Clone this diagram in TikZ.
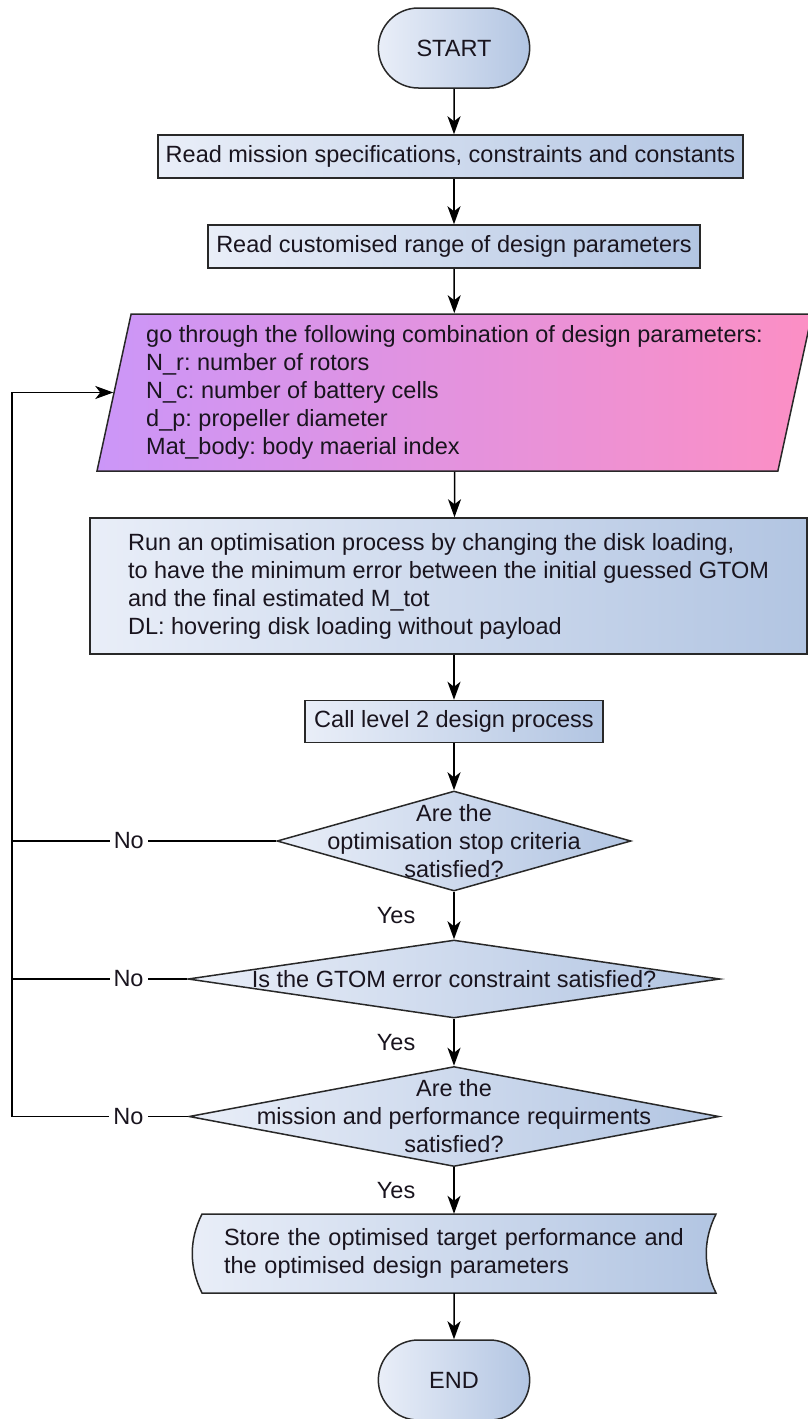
\documentclass[tikz,border=0pt]{standalone}
\usepackage{fontspec}
\setmainfont{Liberation Sans}
\usetikzlibrary{shapes.geometric, shapes.misc, arrows.meta, positioning}
\frenchspacing

\definecolor{boxl}{RGB}{233,238,248}
\definecolor{boxr}{RGB}{178,197,226}
\definecolor{purp}{RGB}{203,150,248}
\definecolor{pinkc}{RGB}{252,143,196}
\definecolor{edge}{RGB}{40,40,40}
\definecolor{txt}{RGB}{25,20,30}

\tikzset{
  base/.style={font=\fontsize{23.5}{28}\selectfont, text=txt},
  terminal/.style={base, rounded rectangle, draw=edge, line width=1.5pt,
    left color=boxl, right color=boxr, minimum width=158pt, minimum height=80pt},
  process/.style={base, rectangle, draw=edge, line width=1.5pt,
    left color=boxl, right color=boxr, inner sep=0pt, minimum height=43pt},
  inputbox/.style={base, trapezium, trapezium left angle=75.7,
    trapezium right angle=104.3, trapezium stretches body,
    minimum width=715pt, minimum height=157pt, inner sep=0pt,
    align=left, draw=edge, line width=1.5pt,
    left color=purp, right color=pinkc},
  decision/.style={diamond, draw=edge, line width=1.5pt,
    left color=boxl, right color=boxr, inner sep=0pt},
  decisiontext/.style={base, align=center},
  storeshape/.style={draw=edge, line width=1.5pt, left color=boxl, right color=boxr},
  yeslabel/.style={base, left=38pt, inner sep=0pt},
  nolabel/.style={base, fill=white, inner sep=4pt},
  arrow/.style={line width=1.5pt, -{Stealth[length=18pt, width=13pt, inset=5pt]}},
  loopline/.style={line width=1.5pt}
}

\begin{document}
\begin{tikzpicture}[x=1pt, y=-1pt]
  \useasboundingbox (0,0) rectangle (808,1419);

  \node[terminal] (start) at (454,48) {START};
  \node[process, minimum width=585pt] (read1) at (450.5,156.5)
    {Read mission specifications, constraints and constants};
  \node[process, minimum width=492pt] (read2) at (454,246.5)
    {Read customised range of design parameters};
  \node[inputbox] (params) at (454.5,392.5)
    {go through the following combination of design parameters:\\
     N\_r: number of rotors\\
     N\_c: number of battery cells\\
     d\_p: propeller diameter\\
     Mat\_body: body maerial index};
  \node[process, minimum width=717pt, minimum height=136pt, align=left]
    (opt) at (448.5,586)
    {Run an optimisation process by changing the disk loading,\\
     to have the minimum error between the initial guessed GTOM\\
     and the final estimated M\_tot\\
     DL: hovering disk loading without payload};
  \node[process, minimum width=298pt, minimum height=42pt] (call) at (454,721.5)
    {Call level 2 design process};

  % decisions
  \node[decision, minimum width=354pt, minimum height=100pt] (dec1) at (454,841) {};
  \node[decisiontext] (dec1txt) at (dec1) {Are the\\optimisation stop criteria\\satisfied?};
  \node[decision, minimum width=532pt, minimum height=78pt] (dec2) at (454,979) {};
  \node[decisiontext] (dec2txt) at (dec2) {Is the GTOM error constraint satisfied?};
  \node[decision, minimum width=530pt, minimum height=100pt] (dec3) at (454,1116.5) {};
  \node[decisiontext] (dec3txt) at (dec3) {Are the\\mission and performance requirments\\satisfied?};

  % stored data
  \draw[storeshape] (202,1214) -- (716,1214) .. controls (703,1240) and (703,1267) .. (716,1293)
    -- (202,1293) .. controls (189,1267) and (189,1240) .. cycle;
  \node[base, minimum width=514pt, minimum height=79pt, text width=470pt, align=left, inner sep=0pt]
    (store) at (459,1253.5)
    {Store the optimised target performance and\\the optimised design parameters};

  \node[terminal] (end) at (454,1380) {END};

  \coordinate (back) at (12,0 |- params.left side);

  \draw[arrow] (start) -- (start |- read1.north);
  \draw[arrow] (read2 |- read1.south) -- (read2);
  \draw[arrow] (read2) -- (params);
  \draw[arrow] (params) -- (params |- opt.north);
  \draw[arrow] (call |- opt.south) -- (call);
  \draw[arrow] (call) -- (dec1);
  \draw[arrow] (dec1) -- node[yeslabel]{Yes} (dec2);
  \draw[arrow] (dec2) -- node[yeslabel]{Yes} (dec3);
  \draw[arrow] (dec3) -- node[yeslabel]{Yes} (dec3 |- store.north);
  \draw[arrow] (end |- store.south) -- (end);

  % loop back
  \draw[loopline] (dec1.west) -- node[nolabel, pos=0.558]{No} (dec1.west -| back);
  \draw[loopline] (dec2.west) -- node[nolabel, pos=0.335]{No} (dec2.west -| back);
  \draw[arrow] (dec3.west) -- node[nolabel, pos=0.339]{No} (dec3.west -| back)
    -- (back) -- (params.left side);
\end{tikzpicture}
\end{document}
